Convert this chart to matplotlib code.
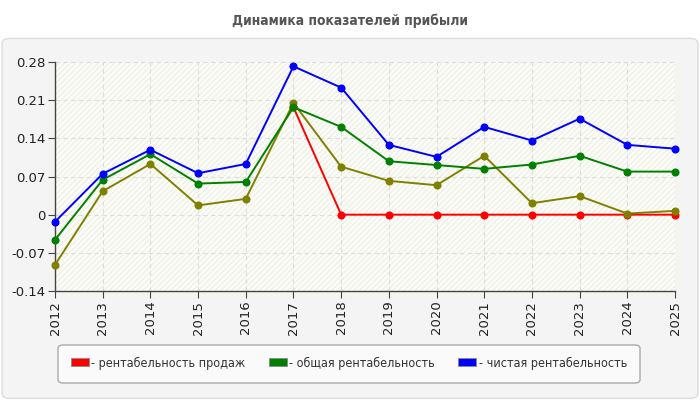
import matplotlib.pyplot as plt
import matplotlib.patches as mpatches
from matplotlib.patches import FancyBboxPatch
import numpy as np

YEARS = [2012, 2013, 2014, 2015, 2016, 2017, 2018, 2019, 2020, 2021, 2022, 2023, 2024, 2025]

# values
SALES = [None, None, None, None, None, 0.197, 0, 0, 0, 0, 0, 0, 0, 0]
TOTAL = [-0.046, 0.064, 0.111, 0.057, 0.060, 0.197, 0.161, 0.098, 0.091, 0.084, 0.092, 0.108, 0.079, 0.079]
NET = [-0.013, 0.075, 0.119, 0.076, 0.093, 0.272, 0.233, 0.128, 0.106, 0.161, 0.136, 0.176, 0.128, 0.121]
OTHER = [-0.092, 0.043, 0.093, 0.017, 0.029, 0.205, 0.088, 0.062, 0.054, 0.108, 0.021, 0.034, 0.002, 0.007]

LABELS = ["- рентабельность продаж", "- общая рентабельность", "- чистая рентабельность"]
YTICKS = [-0.14, -0.07, 0, 0.07, 0.14, 0.21, 0.28]
YTICK_LABELS = ["-0.14", "-0.07", "0", "0.07", "0.14", "0.21", "0.28"]

RED = "#ff0000"
GREEN = "#008000"
BLUE = "#0000ff"
OLIVE = "#808000"

FONT = ["DejaVu Sans"]


def main():
    fig = plt.figure(figsize=(7, 4), dpi=100)
    fig.patch.set_facecolor("white")

    # outer gray panel
    panel = FancyBboxPatch((0.003, 0.004), 0.994, 0.90,
                           boxstyle="round,pad=0,rounding_size=0.012",
                           transform=fig.transFigure, facecolor="#f4f4f4",
                           edgecolor="#dcdcdc", linewidth=1, zorder=-10)
    fig.patches.append(panel)

    fig.text(0.5, 0.948, "Динамика показателей прибыли", ha="center", va="center",
             fontsize=10, fontweight="bold", fontstretch="condensed",
             color="#555555", family=FONT)

    ax = fig.add_axes([55 / 700, 1 - 291 / 400, 620 / 700, 229 / 400])
    ax.set_facecolor("#fdfdf8")
    ax.patch.set_hatch("//////")
    ax.patch.set_edgecolor("#f0f0ea")
    ax.patch.set_linewidth(0)

    x = np.array(YEARS)
    sales = np.array([np.nan if v is None else v for v in SALES], dtype=float)

    ax.plot(x, sales, color=RED, lw=1.4, marker="o", ms=4.8, zorder=3, clip_on=False)
    ax.plot(x, OTHER, color=OLIVE, lw=1.4, marker="o", ms=4.8, zorder=4, clip_on=False)
    ax.plot(x, TOTAL, color=GREEN, lw=1.4, marker="o", ms=4.8, zorder=5, clip_on=False)
    ax.plot(x, NET, color=BLUE, lw=1.4, marker="o", ms=4.8, zorder=6, clip_on=False)

    ax.set_xlim(2012, 2025)
    ax.set_ylim(-0.14, 0.28)
    ax.set_xticks(YEARS)
    ax.set_xticklabels([str(y) for y in YEARS], rotation=90, fontsize=9.5, color="#222222")
    ax.set_yticks(YTICKS)
    ax.set_yticklabels(YTICK_LABELS, fontsize=9.5, color="#222222")
    ax.grid(True, color="#dddddd", linestyle=(0, (4, 3)), linewidth=0.8)
    ax.set_axisbelow(True)

    for side in ["top", "right"]:
        ax.spines[side].set_visible(False)
    for side in ["left", "bottom"]:
        ax.spines[side].set_color("#444444")
        ax.spines[side].set_linewidth(1)
    ax.tick_params(length=5, color="#444444", pad=2)

    # legend box
    box = FancyBboxPatch((58 / 700, 1 - 383 / 400), 582 / 700, 38 / 400,
                         boxstyle="round,pad=0,rounding_size=0.008",
                         transform=fig.transFigure, facecolor="#fafafa",
                         edgecolor="#aaaaaa", linewidth=1, zorder=-5)
    fig.patches.append(box)

    handles = [mpatches.Patch(facecolor=c, edgecolor="#888888", lw=0.6) for c in [RED, GREEN, BLUE]]
    fig.legend(handles, LABELS, loc="center", bbox_to_anchor=(349 / 700, 1 - 363 / 400),
               ncol=3, frameon=False, handlelength=1.45, handleheight=0.65,
               handletextpad=0.2, columnspacing=1.85, borderpad=0, borderaxespad=0,
               prop={"family": FONT, "size": 9, "stretch": "condensed"}, labelcolor="#333333")

    fig.savefig("out.png", dpi=100, facecolor="white")


if __name__ == "__main__":
    main()
